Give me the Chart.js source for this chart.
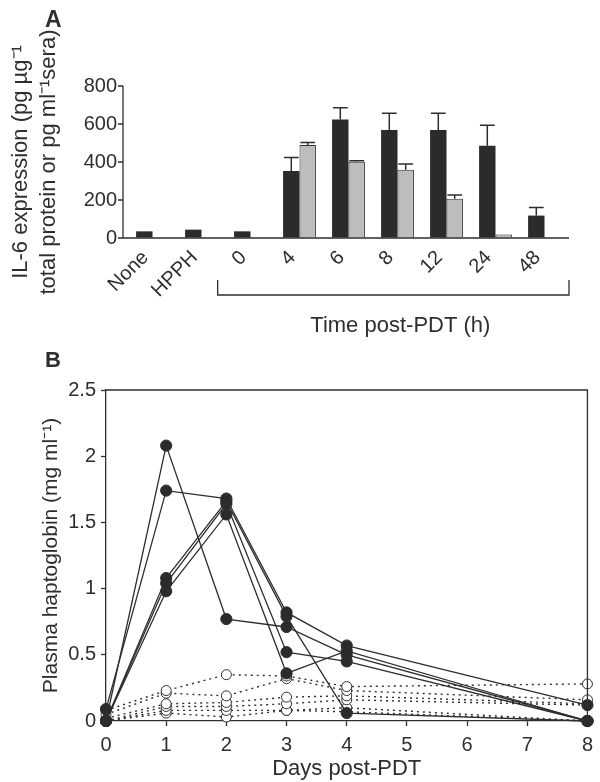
<!DOCTYPE html>
<html>
<head>
<meta charset="utf-8">
<script src="https://cdn.jsdelivr.net/npm/chart.js@4.4.0/dist/chart.umd.min.js"></script>
<style>
  html, body { margin: 0; padding: 0; background: #fff; }
  #wrap { position: relative; width: 600px; height: 782px; }
  #chartA { position: absolute; left: 0; top: 0; }
  #chartB { position: absolute; left: 0; top: 342px; }
</style>
</head>
<body>
<div id="wrap">
  <canvas id="chartA" width="600" height="342"></canvas>
  <canvas id="chartB" width="600" height="440"></canvas>
</div>
<script>
// panel A : IL-6
const groups = ['None', 'HPPH', '0', '4', '6', '8', '12', '24', '48'];
const tissueIL6 = [35, 44, 35, 353, 624, 569, 569, 486, 118];
const tissueErr = [0, 0, 0, 71, 62, 88, 88, 108, 43];
const seraIL6 = [null, 3, null, 489, 401, 359, 207, 19, null];
const seraErr = [0, 0, 0, 14, 5, 30, 19, 0, 0];
const il6Ticks = [0, 200, 400, 600, 800];

// panel B : haptoglobin
const days = [0, 1, 2, 3, 4, 8];
const pdt1 = [0.00, 2.08, 0.77, 0.71, 0.50, 0.00];
const pdt2 = [0.09, 1.74, 1.68, 0.82, 0.57, 0.12];
const pdt3 = [0.00, 1.08, 1.66, 0.79, 0.06, 0.00];
const pdt4 = [0.00, 1.04, 1.64, 0.52, 0.45, 0.00];
const pdt5 = [0.00, 0.98, 1.56, 0.36, 0.53, 0.00];
const ctl1 = [0.08, 0.23, 0.35, 0.34, 0.26, 0.28];
const ctl2 = [0.05, 0.21, 0.19, 0.32, 0.23, 0.16];
const ctl3 = [0.02, 0.13, 0.14, 0.18, 0.19, 0.13];
const ctl4 = [0.00, 0.11, 0.11, 0.13, 0.16, 0.12];
const ctl5 = [0.00, 0.08, 0.08, 0.08, 0.10, 0.00];
const ctl6 = [0.00, 0.06, 0.03, 0.08, 0.07, 0.00];
const dayTicks = [0, 1, 2, 3, 4, 5, 6, 7, 8];
const hapTicks = [0, 0.5, 1, 1.5, 2, 2.5];

const FONT = "'Liberation Sans', Arial, sans-serif";
const INK = '#2e2e2e';
Chart.defaults.font.family = FONT;
Chart.defaults.color = INK;

const errorBars = {
  id: 'errorBars',
  afterDatasetsDraw(chart) {
    const ctx = chart.ctx;
    const y = chart.scales.y;
    chart.data.datasets.forEach((ds, i) => {
      chart.getDatasetMeta(i).data.forEach((bar, j) => {
        const v = ds.data[j], e = ds.errors[j];
        if (v == null || !e) return;
        const top = y.getPixelForValue(v + e);
        const half = bar.width * 0.45;
        ctx.save();
        ctx.strokeStyle = INK;
        ctx.lineWidth = 1.5;
        ctx.beginPath();
        ctx.moveTo(bar.x, bar.y);
        ctx.lineTo(bar.x, top);
        ctx.moveTo(bar.x - half, top);
        ctx.lineTo(bar.x + half, top);
        ctx.stroke();
        ctx.restore();
      });
    });
  }
};

// y axis sits a little left of the first group, plus the bracket under the time points
const decorA = {
  id: 'decorA',
  afterDraw(chart) {
    const {ctx, chartArea: a, scales: {x, y}} = chart;
    const ax = a.left - 5;
    ctx.save();
    ctx.strokeStyle = INK;
    ctx.lineWidth = 1.3;
    ctx.beginPath();
    ctx.moveTo(ax, y.getPixelForValue(il6Ticks[il6Ticks.length - 1]));
    ctx.lineTo(ax, a.bottom);
    ctx.lineTo(a.right, a.bottom);
    il6Ticks.forEach(t => {
      const py = y.getPixelForValue(t);
      ctx.moveTo(ax - 5, py);
      ctx.lineTo(ax, py);
    });
    const step = x.getPixelForValue(1) - x.getPixelForValue(0);
    const bl = x.getPixelForValue(2) - step * 0.67;
    const br = a.right;
    const by = a.bottom + 57;
    ctx.moveTo(bl, by - 15);
    ctx.lineTo(bl, by);
    ctx.lineTo(br, by);
    ctx.lineTo(br, by - 15);
    ctx.stroke();
    ctx.fillStyle = INK;
    ctx.font = '22px ' + FONT;
    ctx.textAlign = 'center';
    ctx.textBaseline = 'middle';
    ctx.fillText('Time post-PDT (h)', (bl + br) / 2 + 7, by + 31);
    ctx.font = 'bold 23px ' + FONT;
    ctx.textAlign = 'left';
    ctx.textBaseline = 'alphabetic';
    ctx.fillText('A', 45, 27);
    ctx.restore();
  }
};

new Chart(document.getElementById('chartA'), {
  type: 'bar',
  data: {
    labels: groups,
    datasets: [
      { data: tissueIL6, errors: tissueErr, backgroundColor: '#2b2b2b', borderWidth: 0 },
      { data: seraIL6, errors: seraErr, backgroundColor: '#bdbdbd', borderColor: INK, borderWidth: 1, borderSkipped: 'bottom' }
    ]
  },
  options: {
    responsive: false,
    animation: false,
    datasets: { bar: { barPercentage: 1, categoryPercentage: 0.67 } },
    layout: { padding: { left: 7, top: 86, right: 31, bottom: 0 } },
    plugins: { legend: { display: false }, tooltip: { enabled: false } },
    scales: {
      x: {
        grid: { display: false, drawTicks: false },
        border: { display: false },
        ticks: { minRotation: 45, maxRotation: 45, padding: 8, labelOffset: -7, font: { size: 20 }, color: INK },
        afterFit: s => { s.height = 104; }
      },
      y: {
        min: 0,
        max: 800,
        afterBuildTicks: s => { s.ticks = il6Ticks.map(v => ({ value: v })); },
        grid: { drawOnChartArea: false, drawTicks: false },
        border: { display: false },
        ticks: { padding: 11, font: { size: 20 }, color: INK },
        title: {
          display: true,
          text: ['IL-6 expression (pg \u00b5g\u207b\u00b9', 'total protein or pg ml\u207b\u00b9sera)'],
          font: { size: 22, lineHeight: 1.27 },
          color: INK,
          padding: 0
        },
        afterFit: s => { s.width = 121; }
      }
    }
  },
  plugins: [errorBars, decorA]
});

const frameB = {
  id: 'frameB',
  afterDraw(chart) {
    const {ctx, chartArea: a} = chart;
    ctx.save();
    ctx.strokeStyle = INK;
    ctx.lineWidth = 1.3;
    ctx.beginPath();
    ctx.moveTo(a.left, a.top);
    ctx.lineTo(a.right, a.top);
    ctx.lineTo(a.right, a.bottom);
    ctx.stroke();
    ctx.fillStyle = INK;
    ctx.font = 'bold 22px ' + FONT;
    ctx.fillText('B', 45, 25);
    ctx.restore();
  }
};

const toPts = arr => arr.map((v, i) => ({ x: days[i], y: v }));
const pdtSet = arr => ({
  data: toPts(arr), borderColor: INK, borderWidth: 1.3,
  pointRadius: 5.6, pointBorderWidth: 1, pointBackgroundColor: '#2b2b2b', pointBorderColor: INK, clip: false
});
const ctlSet = arr => ({
  data: toPts(arr), borderColor: INK, borderWidth: 1.4, borderDash: [2, 4],
  pointRadius: 5, pointBorderWidth: 1, pointBackgroundColor: '#fff', pointBorderColor: INK, clip: false
});

new Chart(document.getElementById('chartB'), {
  type: 'line',
  data: {
    datasets: [pdt1, pdt2, pdt3, pdt4, pdt5].map(pdtSet)
      .concat([ctl1, ctl2, ctl3, ctl4, ctl5, ctl6].map(ctlSet))
  },
  options: {
    responsive: false,
    animation: false,
    layout: { padding: { left: 38, top: 48, right: 8, bottom: 0 } },
    plugins: { legend: { display: false }, tooltip: { enabled: false } },
    scales: {
      x: {
        type: 'linear',
        min: 0,
        max: 8,
        afterBuildTicks: s => { s.ticks = dayTicks.map(v => ({ value: v })); },
        grid: { drawOnChartArea: false, tickLength: 5, color: INK, tickWidth: 1.3 },
        border: { color: INK, width: 1.3 },
        ticks: { padding: 7, font: { size: 20 }, color: INK, maxRotation: 0 },
        title: { display: true, text: 'Days post-PDT', font: { size: 22, lineHeight: 1.2 }, color: INK, padding: { top: 0, bottom: 0 } },
        afterFit: s => { s.height = 61; }
      },
      y: {
        min: 0,
        max: 2.5,
        afterBuildTicks: s => { s.ticks = hapTicks.map(v => ({ value: v })); },
        grid: { drawOnChartArea: false, tickLength: 5, color: INK, tickWidth: 1.3 },
        border: { color: INK, width: 1.3 },
        ticks: { padding: 5, font: { size: 20 }, color: INK, callback: v => String(v) },
        title: { display: true, text: 'Plasma haptoglobin (mg ml\u207b\u00b9)', font: { size: 21, lineHeight: 1.3 }, color: INK, padding: 0 },
        afterFit: s => { s.width = 68; }
      }
    }
  },
  plugins: [frameB]
});
</script>
</body>
</html>
